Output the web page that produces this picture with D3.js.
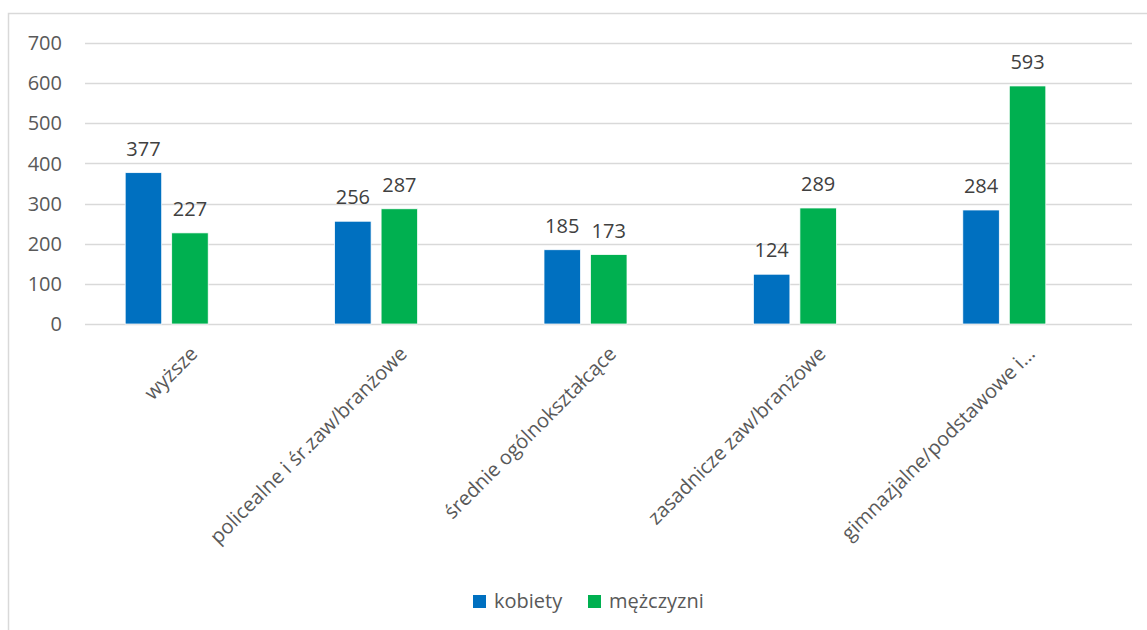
<!DOCTYPE html>
<html>
<head>
<meta charset="utf-8">
<script src="https://cdn.jsdelivr.net/npm/d3@7"></script>
<style>
  body { margin: 0; background: #fff; }
  text { font-family: "Open Sans", "Noto Sans", sans-serif; }
</style>
</head>
<body>
<div id="chart"></div>
<script>
// data
var categories = ["wyższe", "policealne i śr.zaw/branżowe", "średnie ogólnokształcące",
                  "zasadnicze zaw/branżowe", "gimnazjalne/podstawowe i..."];
var seriesNames = ["kobiety", "mężczyzni"];
var kobiety = [377, 256, 185, 124, 284];
var mezczyzni = [227, 287, 173, 289, 593];
var yTicks = [0, 100, 200, 300, 400, 500, 600, 700];
var colors = ["#0070C0", "#00B050"];

var W = 1147, H = 630;
var series = [kobiety, mezczyzni];

var svg = d3.select("#chart").append("svg")
    .attr("width", W)
    .attr("height", H);

// chart border
svg.append("rect")
    .attr("x", 8.5).attr("y", 13.5)
    .attr("width", W + 10).attr("height", H + 10)
    .attr("fill", "none")
    .attr("stroke", "#d9d9d9")
    .attr("stroke-width", 1.5);

var y = d3.scaleLinear().domain([0, 700]).range([324, 43]);

var x0 = d3.scaleBand().domain(categories).range([62, 1109])
    .paddingInner(0.6036).paddingOuter(0.3018);
var x1 = d3.scaleBand().domain(seriesNames).range([0, x0.bandwidth()])
    .paddingInner(0.215);

// gridlines
svg.append("g").selectAll("line")
    .data(yTicks)
    .enter().append("line")
    .attr("x1", 85).attr("x2", 1132)
    .attr("y1", function(d) { return Math.round(y(d)) + 0.5; })
    .attr("y2", function(d) { return Math.round(y(d)) + 0.5; })
    .attr("stroke", "#d9d9d9")
    .attr("stroke-width", 1.5);

// y tick labels
svg.append("g").selectAll("text")
    .data(yTicks)
    .enter().append("text")
    .attr("x", 62)
    .attr("y", function(d) { return y(d); })
    .attr("dy", "0.36em")
    .attr("text-anchor", "end")
    .attr("font-size", "20px")
    .attr("fill", "#595959")
    .text(function(d) { return d; });

// bars
var groups = svg.append("g").selectAll("g")
    .data(categories)
    .enter().append("g")
    .attr("transform", function(d) { return "translate(" + x0(d) + ",0)"; });

groups.selectAll("rect")
    .data(function(d, i) { return seriesNames.map(function(s, j) { return {s: s, v: series[j][i], j: j}; }); })
    .enter().append("rect")
    .attr("x", function(d) { return x1(d.s); })
    .attr("y", function(d) { return y(d.v); })
    .attr("width", x1.bandwidth())
    .attr("height", function(d) { return y(0) - y(d.v); })
    .attr("fill", function(d) { return colors[d.j]; })
    .attr("stroke", "#fff")
    .attr("stroke-width", 0.75);

// value labels
groups.selectAll("text")
    .data(function(d, i) { return seriesNames.map(function(s, j) { return {s: s, v: series[j][i]}; }); })
    .enter().append("text")
    .attr("x", function(d) { return x1(d.s) + x1.bandwidth() / 2; })
    .attr("y", function(d) { return y(d.v) - 17; })
    .attr("text-anchor", "middle")
    .attr("font-size", "20px")
    .attr("fill", "#404040")
    .text(function(d) { return d.v; });

// category labels, rotated
svg.append("g").selectAll("text")
    .data(categories)
    .enter().append("text")
    .attr("transform", function(d) {
        return "translate(" + (x0(d) + x0.bandwidth() / 2 + 22) + ",345) rotate(-45)";
    })
    .attr("dy", "0.71em")
    .attr("text-anchor", "end")
    .attr("font-size", "20px")
    .attr("fill", "#595959")
    .text(function(d) { return d; });

// legend
var legend = svg.append("g");
var legendX = [473, 588];
seriesNames.forEach(function(s, j) {
    legend.append("rect")
        .attr("x", legendX[j]).attr("y", 595)
        .attr("width", 13).attr("height", 13)
        .attr("fill", colors[j]);
    legend.append("text")
        .attr("x", legendX[j] + 21).attr("y", 608)
        .attr("font-size", "20px")
        .attr("fill", "#595959")
        .text(s);
});
</script>
</body>
</html>
